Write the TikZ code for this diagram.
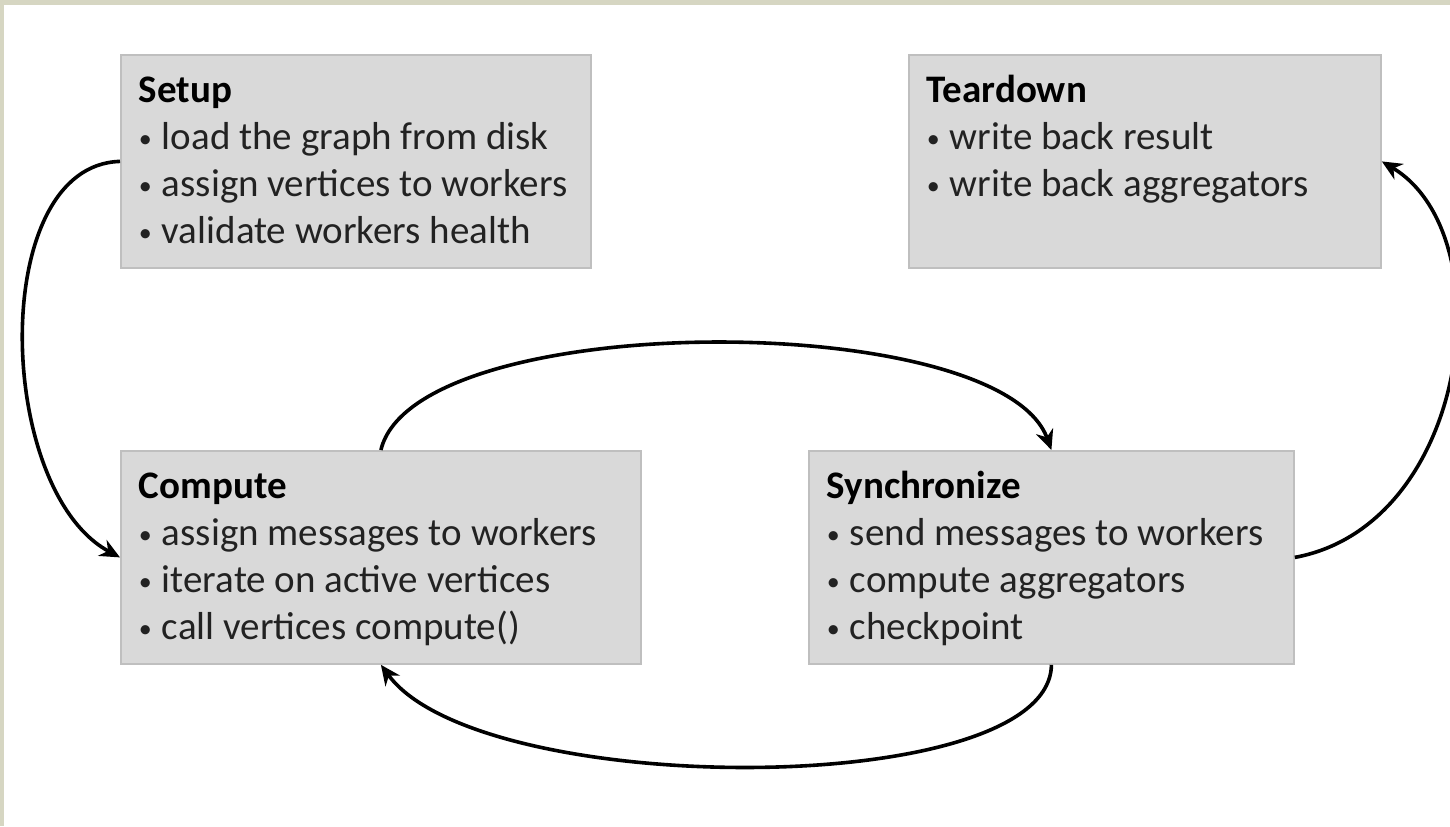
\documentclass[tikz,border=0pt]{standalone}
\usepackage{fontspec}
\setmainfont{Carlito}
\usetikzlibrary{arrows.meta}

\definecolor{framebeige}{HTML}{D6D6C2}
\definecolor{boxfill}{HTML}{D9D9D9}
\definecolor{boxline}{HTML}{BFBFBF}
\definecolor{bodytext}{HTML}{222222}

% Text block of one phase: bold title and bullet items, top aligned
\newcommand{\phasetext}[3]{%
  \begin{minipage}[t][106.5pt][t]{#1}%
    \fontsize{19.5pt}{23.5pt}\selectfont\setlength{\parindent}{0pt}%
    \rule{0pt}{24pt}{\color{black}\textbf{#2}}\par
    #3%
  \end{minipage}}
\newcommand{\bul}[1]{\makebox[11.5pt][l]{\raisebox{1.2pt}{\fontsize{13pt}{13pt}\selectfont•}}#1\par}

\tikzset{
  phase/.style={draw=boxline, line width=0.9pt, fill=boxfill, anchor=north west,
    inner xsep=9pt, inner ysep=0pt, minimum height=106.5pt, text=bodytext},
  flow/.style={line width=1.8pt, -{Stealth[length=10pt,width=9pt]}}
}

\begin{document}
\begin{tikzpicture}[x=0.5pt, y=-0.5pt]
  \useasboundingbox (0,0) rectangle (1450,826);
  \fill[white] (0,0) rectangle (1450,826);
  % thin frame strips along the top and left edges
  \fill[framebeige] (0,0) rectangle (1450,5);
  \fill[framebeige] (0,0) rectangle (4,826);

  \node[phase] (setup) at (120,54)
    {\phasetext{217pt}{Setup}{\bul{load the graph from disk}\bul{assign vertices to workers}\bul{validate workers health}}};
  \node[phase] (teardown) at (908,54)
    {\phasetext{218pt}{Teardown}{\bul{write back result}\bul{write back aggregators}}};
  \node[phase] (compute) at (120,450)
    {\phasetext{242pt}{Compute}{\bul{assign messages to workers}\bul{iterate on active vertices}\bul{call vertices compute()}}};
  \node[phase] (sync) at (808,450)
    {\phasetext{224.5pt}{Synchronize}{\bul{send messages to workers}\bul{compute aggregators}\bul{checkpoint}}};

  % cycle of the phases
  \draw[flow] (setup.west) .. controls (-12,165) and (-5,490) .. (compute.west);
  \draw[flow] (compute.north) .. controls (415,308) and (1000,308) .. (sync.north);
  \draw[flow] (sync.south) .. controls (1050,800) and (480,800) .. (compute.south);
  \draw[flow] (sync.east) .. controls (1470,525) and (1505,235) .. (teardown.east);
\end{tikzpicture}
\end{document}
